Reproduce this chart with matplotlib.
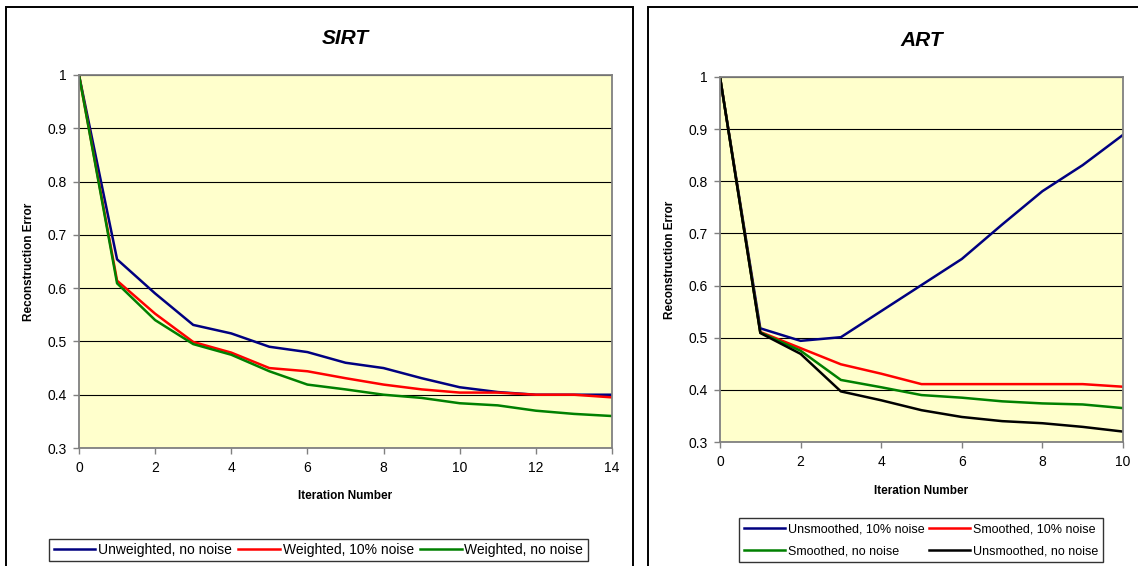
import matplotlib.pyplot as plt
from matplotlib.patches import Rectangle

plt.rcParams['font.family'] = ['Liberation Sans', 'DejaVu Sans']

# SIRT error per iteration
sirt_iter = list(range(15))
sirt_unweighted = [1.0, 0.654, 0.590, 0.531, 0.515, 0.490, 0.480, 0.460, 0.450,
                   0.431, 0.414, 0.405, 0.400, 0.400, 0.400]
sirt_weighted_noise = [1.0, 0.614, 0.552, 0.499, 0.479, 0.450, 0.444, 0.431, 0.419,
                       0.410, 0.404, 0.404, 0.400, 0.400, 0.395]
sirt_weighted = [1.0, 0.609, 0.540, 0.495, 0.475, 0.444, 0.419, 0.410, 0.400,
                 0.394, 0.384, 0.380, 0.370, 0.364, 0.360]

# ART error per iteration
art_iter = list(range(11))
art_unsmoothed_noise = [1.0, 0.518, 0.494, 0.501, 0.551, 0.601, 0.651, 0.717, 0.781, 0.831, 0.889]
art_smoothed_noise = [1.0, 0.511, 0.480, 0.449, 0.431, 0.411, 0.411, 0.411, 0.411, 0.411, 0.406]
art_smoothed = [1.0, 0.510, 0.475, 0.419, 0.405, 0.390, 0.385, 0.378, 0.374, 0.372, 0.365]
art_unsmoothed = [1.0, 0.509, 0.469, 0.397, 0.380, 0.361, 0.348, 0.340, 0.336, 0.329, 0.320]

yticks = [0.3, 0.4, 0.5, 0.6, 0.7, 0.8, 0.9, 1.0]
ylabels = ['0.3', '0.4', '0.5', '0.6', '0.7', '0.8', '0.9', '1']

W, H = 1138, 566
fig = plt.figure(figsize=(W / 100, H / 100), dpi=100)

# outer chart frames
fig.add_artist(Rectangle((6 / W, -0.05), 627 / W, 1 - 7 / H + 0.05,
                         transform=fig.transFigure, fill=False, ec='black', lw=1.4))
fig.add_artist(Rectangle((648 / W, -0.05), 0.5, 1 - 7 / H + 0.05,
                         transform=fig.transFigure, fill=False, ec='black', lw=1.4))


def style(ax, xmax, title, xpad):
    ax.set_facecolor('#FFFFCC')
    ax.set_xlim(0, xmax)
    ax.set_ylim(0.3, 1.0)
    ax.set_xticks(range(0, xmax + 1, 2))
    ax.set_yticks(yticks)
    ax.set_yticklabels(ylabels)
    ax.yaxis.grid(True, color='black', lw=0.8)
    ax.set_axisbelow(True)
    for s in ax.spines.values():
        s.set_color('#808080')
        s.set_linewidth(1.3)
    ax.tick_params(length=4, width=1, color='#808080', labelsize=10, pad=5)
    ax.set_title(title, fontsize=15, fontweight='bold', style='italic', pad=22)
    ax.set_xlabel('Iteration Number', fontsize=8.5, fontweight='bold', labelpad=xpad)
    ax.set_ylabel('Reconstruction Error', fontsize=8.5, fontweight='bold', labelpad=9)


ax1 = fig.add_axes([79 / W, 1 - 448 / H, 533 / W, 373 / H])
ax1.plot(sirt_iter, sirt_unweighted, color='#000080', lw=1.8, label='Unweighted, no noise')
ax1.plot(sirt_iter, sirt_weighted_noise, color='#FF0000', lw=1.8, label='Weighted, 10% noise')
ax1.plot(sirt_iter, sirt_weighted, color='#008000', lw=1.8, label='Weighted, no noise')
style(ax1, 14, 'SIRT', 11)
ax1.legend(loc='center', bbox_to_anchor=(318.5 / W, 1 - 550 / H), bbox_transform=fig.transFigure,
           ncol=3, fontsize=10, frameon=True, fancybox=False, edgecolor='black',
           handlelength=3, handletextpad=0.2, columnspacing=0.45, borderpad=0.3,
           borderaxespad=0)

ax2 = fig.add_axes([720 / W, 1 - 442 / H, 403 / W, 365 / H])
l_un10, = ax2.plot(art_iter, art_unsmoothed_noise, color='#000080', lw=1.8, label='Unsmoothed, 10% noise')
l_sm10, = ax2.plot(art_iter, art_smoothed_noise, color='#FF0000', lw=1.8, label='Smoothed, 10% noise')
l_sm, = ax2.plot(art_iter, art_smoothed, color='#008000', lw=1.8, label='Smoothed, no noise')
l_un, = ax2.plot(art_iter, art_unsmoothed, color='black', lw=1.8, label='Unsmoothed, no noise')
style(ax2, 10, 'ART', 12)
# legend fills column-wise, so order handles to read row by row
ax2.legend(handles=[l_un10, l_sm, l_sm10, l_un], loc='center',
           bbox_to_anchor=(921 / W, 1 - 540 / H), bbox_transform=fig.transFigure,
           ncol=2, fontsize=9, frameon=True, fancybox=False, edgecolor='black',
           handlelength=3.3, handletextpad=0.2, columnspacing=0.35, borderpad=0.4,
           labelspacing=0.8, borderaxespad=0)

fig.savefig('out.png', dpi=100)
